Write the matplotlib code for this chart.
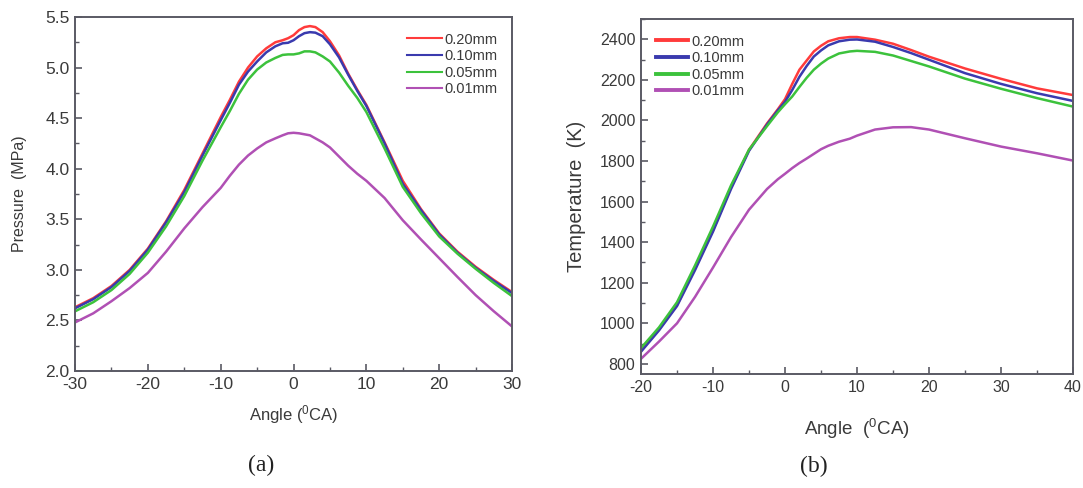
import matplotlib
matplotlib.use("Agg")
import matplotlib.pyplot as plt
from matplotlib.ticker import MultipleLocator

plt.rcParams['font.family'] = ['Liberation Sans', 'DejaVu Sans']
plt.rcParams['mathtext.default'] = 'regular'
plt.rcParams['axes.unicode_minus'] = False

TEXT = '#3a3a3a'
SPINE = '#5a5a64'

gaps = ["0.20mm", "0.10mm", "0.05mm", "0.01mm"]
colors = ['#ff3b3b', '#3a3aae', '#3cc23c', '#b050b4']

# (a) in-cylinder pressure vs crank angle
angle_p = [-30, -27.5, -25, -22.5, -20, -17.5, -15, -12.5, -10, -8.75, -7.5, -6.25, -5,
           -3.75, -2.5, -1.5, -0.75, 0, 0.75, 1.5, 2.25, 3, 4, 5, 6.25, 7.5, 8.75, 10,
           12.5, 15, 17.5, 20, 22.5, 25, 27.5, 30]
p_020 = [2.63, 2.72, 2.84, 3.00, 3.21, 3.48, 3.79, 4.15, 4.51, 4.68, 4.86, 5.00, 5.11,
         5.19, 5.25, 5.27, 5.29, 5.32, 5.37, 5.40, 5.41, 5.40, 5.35, 5.26, 5.12, 4.94, 4.78, 4.63,
         4.26, 3.88, 3.60, 3.36, 3.18, 3.03, 2.90, 2.78]
p_010 = [2.62, 2.71, 2.83, 2.99, 3.20, 3.47, 3.77, 4.13, 4.48, 4.65, 4.83, 4.96, 5.06,
         5.15, 5.21, 5.24, 5.245, 5.27, 5.31, 5.34, 5.35, 5.345, 5.31, 5.23, 5.10, 4.93, 4.77, 4.62,
         4.25, 3.85, 3.59, 3.35, 3.17, 3.02, 2.89, 2.77]
p_005 = [2.59, 2.68, 2.80, 2.96, 3.17, 3.43, 3.73, 4.08, 4.41, 4.57, 4.74, 4.88, 4.98,
         5.05, 5.095, 5.125, 5.13, 5.13, 5.14, 5.16, 5.16, 5.15, 5.11, 5.06, 4.95, 4.82, 4.70, 4.56,
         4.20, 3.82, 3.56, 3.33, 3.16, 3.01, 2.87, 2.74]
p_001 = [2.48, 2.57, 2.69, 2.82, 2.97, 3.18, 3.41, 3.62, 3.81, 3.93, 4.04, 4.13, 4.20,
         4.26, 4.30, 4.33, 4.35, 4.355, 4.35, 4.34, 4.33, 4.30, 4.26, 4.21, 4.12, 4.03, 3.95, 3.88,
         3.71, 3.49, 3.30, 3.115, 2.93, 2.75, 2.59, 2.44]

# (b) in-cylinder temperature vs crank angle
angle_t = [-20, -17.5, -15, -12.5, -10, -7.5, -5, -2.5, -1, 0, 1, 2, 3, 4, 5, 6, 7.5, 9,
           10, 12.5, 15, 17.5, 20, 25, 30, 35, 40]
t_020 = [865, 970, 1090, 1270, 1460, 1670, 1855, 1985, 2055, 2105, 2180, 2250, 2295, 2340,
         2368, 2390, 2405, 2411, 2411, 2398, 2378, 2347, 2314, 2256, 2205, 2158, 2125]
t_010 = [860, 965, 1085, 1262, 1452, 1662, 1850, 1980, 2050, 2092, 2150, 2215, 2268, 2315,
         2345, 2370, 2390, 2398, 2399, 2388, 2362, 2332, 2299, 2233, 2180, 2134, 2096]
t_005 = [878, 980, 1104, 1285, 1477, 1680, 1856, 1972, 2040, 2080, 2118, 2165, 2210, 2250,
         2280, 2305, 2330, 2340, 2343, 2338, 2320, 2293, 2266, 2206, 2156, 2110, 2068]
t_001 = [825, 910, 1000, 1130, 1275, 1425, 1560, 1662, 1710, 1737, 1765, 1790, 1812, 1835,
         1858, 1875, 1895, 1910, 1925, 1955, 1966, 1967, 1955, 1912, 1871, 1838, 1802]

fig = plt.figure(figsize=(10.83, 4.88), dpi=100)
ax1 = fig.add_axes([0.0693, 0.2398, 0.4035, 0.7254])
ax2 = fig.add_axes([0.5919, 0.2336, 0.3989, 0.7275])

for ys, c, lab in zip([p_020, p_010, p_005, p_001], colors, gaps):
    ax1.plot(angle_p, ys, color=c, lw=1.8, label=lab)
for ys, c, lab in zip([t_020, t_010, t_005, t_001], colors, gaps):
    ax2.plot(angle_t, ys, color=c, lw=1.8, label=lab)

ax1.set_xlim(-30, 30)
ax1.set_ylim(2.0, 5.5)
ax1.xaxis.set_major_locator(MultipleLocator(10))
ax1.xaxis.set_minor_locator(MultipleLocator(5))
ax1.yaxis.set_major_locator(MultipleLocator(0.5))
ax1.yaxis.set_minor_locator(MultipleLocator(0.25))
ax1.yaxis.set_major_formatter(plt.FormatStrFormatter('%.1f'))

ax2.set_xlim(-20, 40)
ax2.set_ylim(750, 2500)
ax2.xaxis.set_major_locator(MultipleLocator(10))
ax2.xaxis.set_minor_locator(MultipleLocator(5))
ax2.yaxis.set_minor_locator(MultipleLocator(100))
ax2.set_yticks(range(800, 2401, 200))

for ax, fs in [(ax1, 12.5), (ax2, 11.5)]:
    for s in ax.spines.values():
        s.set_color(SPINE)
        s.set_linewidth(1.4)
    ax.tick_params(which='both', direction='in', color=SPINE, labelcolor=TEXT,
                   labelsize=fs, top=False, right=False)
    ax.tick_params(which='major', length=5, width=1.2, pad=4)
    ax.tick_params(which='minor', length=3, width=1.0)

ax1.set_xlabel('Angle ($^{0}$CA)', fontsize=12, color=TEXT, labelpad=8)
ax1.set_ylabel('Pressure  (MPa)', fontsize=11.5, color=TEXT, labelpad=13)
ax2.set_xlabel('Angle  ($^{0}$CA)', fontsize=13.5, color=TEXT, labelpad=16)
ax2.set_ylabel('Temperature  (K)', fontsize=14.5, color=TEXT, labelpad=10)

leg1 = ax1.legend(loc='upper right', bbox_to_anchor=(0.99, 0.985), frameon=False,
                  fontsize=10.5, handlelength=2.4, handletextpad=0.15, labelspacing=0.18,
                  borderaxespad=0.3)
for h in leg1.get_lines():
    h.set_linewidth(1.5)
leg2 = ax2.legend(loc='upper left', bbox_to_anchor=(0.01, 0.985), frameon=False,
                  fontsize=10.5, handlelength=2.2, handletextpad=0.25, labelspacing=0.18,
                  borderaxespad=0.3)
for h in leg2.get_lines():
    h.set_linewidth(2.8)
for leg in (leg1, leg2):
    for t in leg.get_texts():
        t.set_color(TEXT)

fig.text(0.241, 0.046, '(a)', ha='center', va='center', fontsize=17,
         family='Liberation Serif', color='#222222')
fig.text(0.751, 0.044, '(b)', ha='center', va='center', fontsize=17,
         family='Liberation Serif', color='#222222')

fig.savefig('out.png', dpi=100)
